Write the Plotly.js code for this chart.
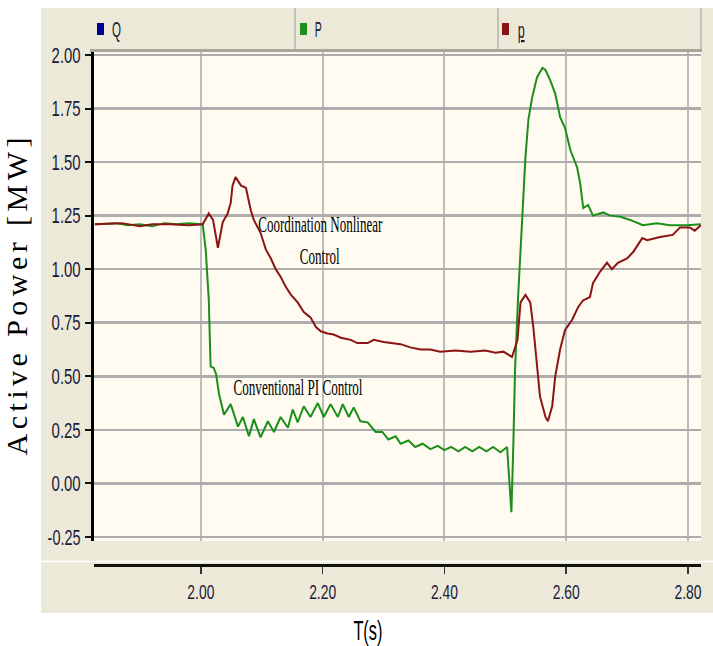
<!DOCTYPE html>
<html>
<head>
<meta charset="utf-8">
<script src="https://cdn.plot.ly/plotly-3.0.1.min.js"></script>
<style>
  html, body { margin: 0; padding: 0; background: #ffffff; }
  #chart { width: 713px; height: 646px; }
</style>
</head>
<body>
<div id="chart"></div>
<script>
// ---- data ----
const seriesNames = ['Q', 'P', 'p'];
const seriesColors = ['#000090', '#1a8f1a', '#8b1414'];

// P : conventional PI control (green)
const timeP = [1.826, 1.86, 1.88, 1.90, 1.92, 1.94, 1.96, 1.98, 2.00, 2.003,
  2.008, 2.013, 2.016, 2.021, 2.025, 2.030, 2.038, 2.049, 2.061, 2.069,
  2.079, 2.087, 2.098, 2.110, 2.120, 2.131, 2.143, 2.151, 2.159, 2.169,
  2.180, 2.192, 2.202, 2.213, 2.225, 2.233, 2.243, 2.251, 2.262, 2.274,
  2.287, 2.298, 2.308, 2.320, 2.328, 2.341, 2.352, 2.364, 2.377, 2.389,
  2.400, 2.411, 2.423, 2.434, 2.446, 2.457, 2.469, 2.480, 2.492, 2.503,
  2.505, 2.510, 2.513, 2.516, 2.521, 2.528, 2.533, 2.538, 2.544, 2.552,
  2.561, 2.566, 2.574, 2.582, 2.590, 2.598, 2.607, 2.618, 2.623, 2.628,
  2.636, 2.644, 2.661, 2.672, 2.689, 2.705, 2.726, 2.749, 2.770, 2.798, 2.821];
const valueP = [1.21, 1.215, 1.205, 1.21, 1.20, 1.215, 1.21, 1.215, 1.21, 1.21,
  1.09, 0.857, 0.545, 0.54, 0.51, 0.415, 0.32, 0.37, 0.265, 0.31,
  0.22, 0.30, 0.215, 0.29, 0.24, 0.31, 0.26, 0.345, 0.285, 0.36,
  0.31, 0.375, 0.31, 0.37, 0.31, 0.37, 0.31, 0.355, 0.29, 0.285,
  0.24, 0.24, 0.205, 0.22, 0.185, 0.20, 0.17, 0.185, 0.16, 0.175,
  0.155, 0.17, 0.15, 0.17, 0.15, 0.17, 0.15, 0.17, 0.145, 0.17,
  0.08, -0.135, 0.16, 0.53, 0.87, 1.24, 1.52, 1.70, 1.80, 1.895,
  1.94, 1.93, 1.88, 1.82, 1.71, 1.66, 1.555, 1.475, 1.40, 1.285,
  1.30, 1.25, 1.265, 1.25, 1.245, 1.23, 1.205, 1.215, 1.205, 1.205, 1.21];

// p : coordination nonlinear control (dark red)
const timeR = [1.826, 1.87, 1.90, 1.92, 1.95, 1.98, 2.003,
  2.013, 2.020, 2.028, 2.036, 2.044, 2.049, 2.052, 2.057, 2.066, 2.074,
  2.082, 2.087, 2.098, 2.107, 2.115, 2.123, 2.131, 2.139, 2.148, 2.159,
  2.169, 2.180, 2.189, 2.197, 2.208, 2.218, 2.230, 2.246, 2.257, 2.274,
  2.284, 2.300, 2.311, 2.328, 2.344, 2.361, 2.377, 2.393, 2.418, 2.443,
  2.467, 2.484, 2.497, 2.511, 2.520, 2.525, 2.533, 2.541, 2.546, 2.552,
  2.557, 2.566, 2.570, 2.577, 2.582, 2.590, 2.598, 2.610, 2.620, 2.628,
  2.639, 2.644, 2.656, 2.667, 2.675, 2.685, 2.700, 2.710, 2.725, 2.733,
  2.754, 2.775, 2.787, 2.803, 2.811, 2.821];
const valueR = [1.21, 1.215, 1.20, 1.21, 1.21, 1.205, 1.21,
  1.26, 1.23, 1.10, 1.22, 1.26, 1.31, 1.39, 1.43, 1.39, 1.38,
  1.275, 1.23, 1.17, 1.09, 1.05, 1.00, 0.965, 0.92, 0.88, 0.845,
  0.80, 0.775, 0.73, 0.71, 0.70, 0.695, 0.68, 0.67, 0.655, 0.655,
  0.67, 0.66, 0.655, 0.65, 0.635, 0.625, 0.625, 0.615, 0.62, 0.615,
  0.62, 0.61, 0.615, 0.59, 0.67, 0.845, 0.88, 0.845, 0.73, 0.545,
  0.405, 0.31, 0.29, 0.36, 0.50, 0.625, 0.715, 0.765, 0.825, 0.855,
  0.87, 0.935, 0.99, 1.03, 1.00, 1.03, 1.05, 1.08, 1.145, 1.135,
  1.15, 1.16, 1.195, 1.195, 1.18, 1.205];

const yTicks = [-0.25, 0.00, 0.25, 0.50, 0.75, 1.00, 1.25, 1.50, 1.75, 2.00];
const yTickLabels = ['-0.25', '0.00', '0.25', '0.50', '0.75', '1.00', '1.25', '1.50', '1.75', '2.00'];
const xTicks = [2.00, 2.20, 2.40, 2.60, 2.80];
const xTickLabels = ['2.00', '2.20', '2.40', '2.60', '2.80'];
const labelNonlinear = ['Coordination Nonlinear', 'Control'];
const labelPI = 'Conventional PI Control';
const xTitle = 'T(s)';
const yTitle = 'Active Power [MW]';

// ---- layout helpers (pixel -> paper) ----
const W = 713, H = 646, ML = 94, MR = 12, MT = 52, MB = 81;
const PW = W - ML - MR, PH = H - MT - MB;
const px = x => (x - ML) / PW;
const py = y => (H - MB - y) / PH;

const beige = '#ECE9D8';
const sans = 'Liberation Sans, Arial, sans-serif';
const serif = 'Liberation Serif, Times New Roman, serif';

const traces = [
  { x: timeP, y: valueP, name: seriesNames[1], type: 'scatter', mode: 'lines',
    line: { color: seriesColors[1], width: 2 } },
  { x: timeR, y: valueR, name: seriesNames[2], type: 'scatter', mode: 'lines',
    line: { color: seriesColors[2], width: 2 } }
];

const shapes = [
  // white surrounds
  { type: 'rect', xref: 'paper', yref: 'paper', x0: -0.3, x1: px(41), y0: -0.3, y1: 1.3,
    fillcolor: '#ffffff', line: { width: 0 }, layer: 'below' },
  { type: 'rect', xref: 'paper', yref: 'paper', x0: -0.3, x1: 1.3, y0: py(8), y1: 1.3,
    fillcolor: '#ffffff', line: { width: 0 }, layer: 'below' },
  { type: 'rect', xref: 'paper', yref: 'paper', x0: -0.3, x1: 1.3, y0: -0.3, y1: py(613),
    fillcolor: '#ffffff', line: { width: 0 }, layer: 'below' },
  // legend bar separators and plot top border
  { type: 'line', xref: 'paper', yref: 'paper', x0: px(295), x1: px(295), y0: py(8), y1: py(50),
    line: { color: '#b4b4ac', width: 1.5 } },
  { type: 'line', xref: 'paper', yref: 'paper', x0: px(498), x1: px(498), y0: py(8), y1: py(50),
    line: { color: '#b4b4ac', width: 1.5 } },
  { type: 'line', xref: 'paper', yref: 'paper', x0: px(701), x1: px(701), y0: py(8), y1: py(50),
    line: { color: '#b4b4ac', width: 1.5 } },
  { type: 'line', xref: 'paper', yref: 'paper', x0: px(90), x1: px(702), y0: py(50.5), y1: py(50.5),
    line: { color: '#a6a69e', width: 3 } },
  // separator above the x-axis strip
  { type: 'line', xref: 'paper', yref: 'paper', x0: px(41), x1: px(713), y0: py(561.5), y1: py(561.5),
    line: { color: '#ffffff', width: 1.5 } },
  // legend colour squares
  { type: 'rect', xref: 'paper', yref: 'paper', x0: px(97), x1: px(104), y0: py(35), y1: py(23),
    fillcolor: seriesColors[0], line: { width: 0 } },
  { type: 'rect', xref: 'paper', yref: 'paper', x0: px(300), x1: px(307), y0: py(35), y1: py(23),
    fillcolor: seriesColors[1], line: { width: 0 } },
  { type: 'rect', xref: 'paper', yref: 'paper', x0: px(502), x1: px(509), y0: py(35), y1: py(23),
    fillcolor: seriesColors[2], line: { width: 0 } }
];

// target widths (px) for the tall, condensed lettering of the original
const annotations = [
  { xref: 'paper', yref: 'paper', x: px(116), y: py(30), xanchor: 'center', yanchor: 'middle',
    text: seriesNames[0], showarrow: false, font: { family: sans, size: 22, color: '#1a1a2e' }, _w: 9 },
  { xref: 'paper', yref: 'paper', x: px(318.5), y: py(30), xanchor: 'center', yanchor: 'middle',
    text: seriesNames[1], showarrow: false, font: { family: sans, size: 22, color: '#1a1a2e' }, _w: 7 },
  { xref: 'paper', yref: 'paper', x: px(520.5), y: py(31), xanchor: 'center', yanchor: 'middle',
    text: '<u>' + seriesNames[2] + '</u>', showarrow: false, font: { family: sans, size: 22, color: '#1a1a2e' }, _w: 7 },
  { xref: 'paper', yref: 'paper', x: px(320), y: py(224), xanchor: 'center', yanchor: 'middle',
    text: labelNonlinear[0], showarrow: false, font: { family: serif, size: 24, color: '#000000' }, _w: 124 },
  { xref: 'paper', yref: 'paper', x: px(320), y: py(256), xanchor: 'center', yanchor: 'middle',
    text: labelNonlinear[1], showarrow: false, font: { family: serif, size: 24, color: '#000000' }, _w: 40 },
  { xref: 'paper', yref: 'paper', x: px(297.5), y: py(387), xanchor: 'center', yanchor: 'middle',
    text: labelPI, showarrow: false, font: { family: serif, size: 24, color: '#000000' }, _w: 129 },
  { xref: 'paper', yref: 'paper', x: px(368), y: py(630), xanchor: 'center', yanchor: 'middle',
    text: xTitle, showarrow: false, font: { family: sans, size: 28, color: '#000000' }, _w: 29 }
];
const annWidths = annotations.map(a => a._w);
annotations.forEach(a => delete a._w);

const layout = {
  width: W, height: H,
  margin: { l: ML, r: MR, t: MT, b: MB, pad: 0 },
  paper_bgcolor: beige,
  plot_bgcolor: '#FFFBF0',
  showlegend: false,
  xaxis: {
    range: [1.8245, 2.8214],
    anchor: 'free', position: 0,
    tickvals: xTicks, ticktext: xTickLabels,
    ticks: 'outside', ticklen: 7, tickwidth: 1.5, tickcolor: '#333',
    showline: true, linecolor: '#111', linewidth: 3,
    showgrid: true, gridcolor: '#bcbcbc', gridwidth: 2,
    zeroline: false,
    tickfont: { family: sans, size: 21, color: '#1a1a3a' }
  },
  yaxis: {
    range: [-0.269, 2.014],
    domain: [py(541), 1],
    tickvals: yTicks, ticktext: yTickLabels,
    ticks: 'outside', ticklen: 6, tickwidth: 2, tickcolor: '#111',
    showline: true, linecolor: '#000', linewidth: 3,
    showgrid: true, gridcolor: '#adadad', gridwidth: 2.5,
    zeroline: false,
    tickfont: { family: sans, size: 22, color: '#1a1a3a' },
    title: { text: yTitle, font: { family: serif, size: 30, color: '#000' }, standoff: 8 }
  },
  shapes: shapes,
  annotations: annotations
};

function squeeze(el, target, mode) {
  el.setAttribute('textLength', String(target));
  el.setAttribute('lengthAdjust', mode || 'spacingAndGlyphs');
}

Plotly.newPlot('chart', traces, layout, { staticPlot: true, displayModeBar: false }).then(() => {
  const root = document.getElementById('chart');
  const yt = root.querySelector('.ytitle');
  if (yt) squeeze(yt, 318, 'spacing');
  root.querySelectorAll('.ytick text').forEach(el => {
    const n = el.textContent.length;
    squeeze(el, n >= 5 ? 33 : 29);
  });
  root.querySelectorAll('.xtick text').forEach(el => squeeze(el, 27));
  root.querySelectorAll('.annotation-text').forEach((el, i) => {
    if (annWidths[i]) squeeze(el, annWidths[i]);
  });
});
</script>
</body>
</html>
